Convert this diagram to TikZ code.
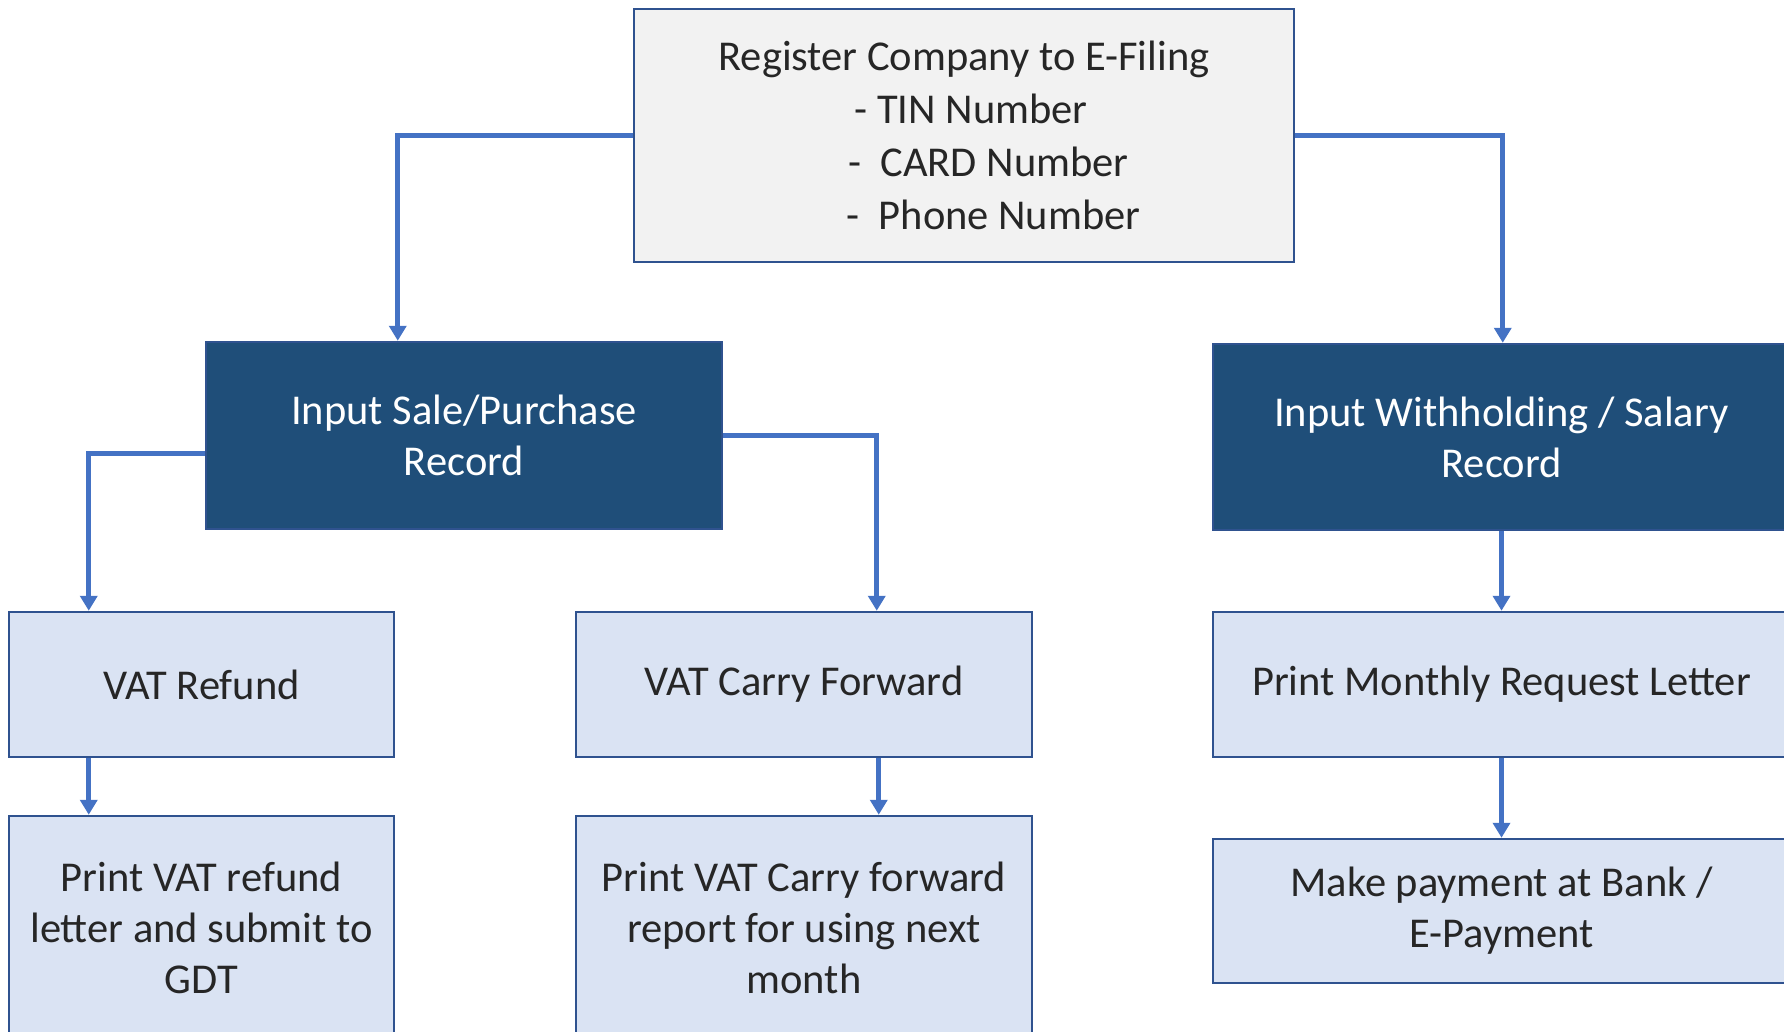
\documentclass[tikz,border=0pt]{standalone}
\usepackage{fontspec}
\setmainfont{Carlito}
\usetikzlibrary{arrows.meta}
\definecolor{darkbox}{HTML}{1F4E79}
\definecolor{lightbox}{HTML}{DAE3F3}
\definecolor{topbox}{HTML}{F2F2F2}
\definecolor{bordercol}{HTML}{2F528F}
\definecolor{conncol}{HTML}{4472C4}
\definecolor{txtcol}{HTML}{262626}
\begin{document}
\begin{tikzpicture}[x=1pt,y=-1pt,
  base/.style={draw=bordercol,line width=2.5pt,inner sep=0pt,align=center,
    font=\fontsize{42.5}{51}\selectfont},
  topstyle/.style={base,fill=topbox,text=txtcol,font=\fontsize{42.5}{53}\selectfont},
  darkstyle/.style={base,fill=darkbox,text=white},
  lightstyle/.style={base,fill=lightbox,text=txtcol},
  conn/.style={draw=conncol,line width=5pt,-{Triangle[width=17pt,length=15pt]}}]
\useasboundingbox (0,0) rectangle (1784,1032);
\node[topstyle,minimum width=660pt,minimum height=253pt] (top) at (964,135.5)
  {Register Company to E-Filing\\\hspace*{14pt}- TIN Number\\\hspace*{49pt}-\ \ CARD Number\\\hspace*{59pt}-\ \ Phone Number};
\node[darkstyle,minimum width=516pt,minimum height=187pt] (lin) at (464,435.5)
  {Input Sale/Purchase\\Record};
\node[darkstyle,minimum width=577pt,minimum height=186pt] (rin) at (1501.5,437)
  {Input Withholding / Salary\\Record};
\node[lightstyle,minimum width=385pt,minimum height=145pt] (vr) at (201.5,684.5)
  {VAT Refund};
\node[lightstyle,minimum width=456pt,minimum height=145pt] (vcf) at (804,684.5)
  {VAT Carry Forward};
\node[lightstyle,minimum width=577pt,minimum height=145pt] (pm) at (1501.5,684.5)
  {Print Monthly Request Letter};
\node[lightstyle,minimum width=385pt,minimum height=224pt] (pvr) at (201.5,928)
  {Print VAT refund\\letter and submit to\\GDT};
\node[lightstyle,minimum width=456pt,minimum height=224pt] (pvc) at (804,928)
  {Print VAT Carry forward\\report for using next\\month};
\node[lightstyle,minimum width=577pt,minimum height=144pt] (mp) at (1501.5,911)
  {Make payment at Bank /\\E-Payment};
\draw[conn] (top.west) -| ([xshift=193pt]lin.north west);
\draw[conn] (top.east) -| ([xshift=291pt]rin.north west);
\draw[conn] ([yshift=-17.5pt]lin.west) -| ([xshift=81pt]vr.north west);
\draw[conn] (lin.east) -| ([xshift=302pt]vcf.north west);
\draw[conn] (rin.south) -- (pm.north);
\draw[conn] ([xshift=81pt]vr.south west) -- ([xshift=81pt]pvr.north west);
\draw[conn] ([xshift=304pt]vcf.south west) -- ([xshift=304pt]pvc.north west);
\draw[conn] (pm.south) -- (mp.north);
\end{tikzpicture}
\end{document}
